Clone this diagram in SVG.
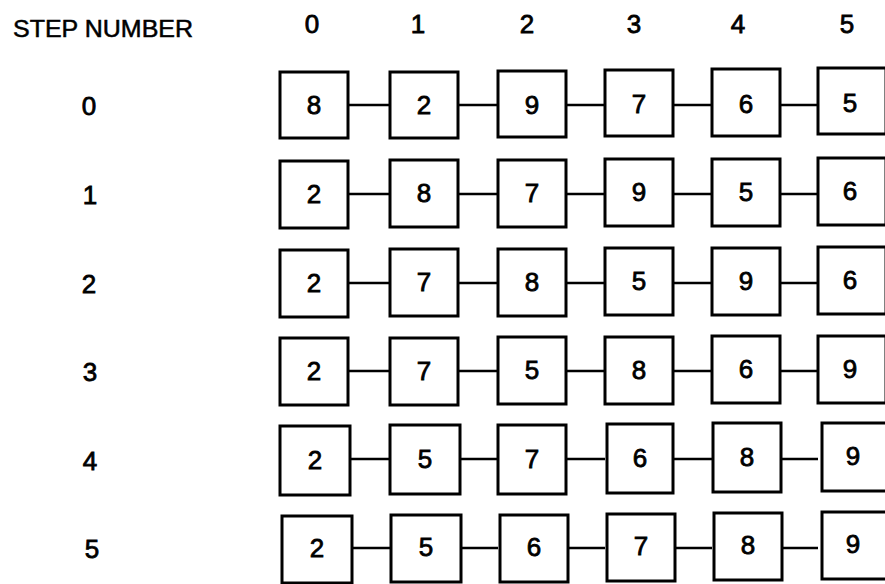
<svg xmlns="http://www.w3.org/2000/svg" width="885" height="584" viewBox="0 0 885 584">
<style>
.box{fill:#fff;stroke:#000;stroke-width:3}
.conn line{stroke:#000;stroke-width:2.5}
.v{font-family:"Liberation Sans","DejaVu Sans",sans-serif;font-size:26px;text-anchor:middle;fill:#000;stroke:#000;stroke-width:0.8}
.h{font-family:"Liberation Sans","DejaVu Sans",sans-serif;font-size:26px;text-anchor:middle;fill:#000;stroke:#000;stroke-width:0.8}
.t{font-family:"Liberation Sans","DejaVu Sans",sans-serif;font-size:23px;fill:#000;stroke:#000;stroke-width:0.5}
</style>
<rect width="885" height="584" fill="#fff"/>
<text class="t" x="13" y="37" textLength="180" lengthAdjust="spacingAndGlyphs">STEP NUMBER</text>
<g id="col-headers">
<text class="h" x="312" y="33">0</text>
<text class="h" x="418" y="33">1</text>
<text class="h" x="527" y="33">2</text>
<text class="h" x="634" y="33">3</text>
<text class="h" x="738" y="33">4</text>
<text class="h" x="847" y="33">5</text>
</g>
<g id="row-labels">
<text class="h" x="89" y="115">0</text>
<text class="h" x="90" y="204">1</text>
<text class="h" x="89" y="293">2</text>
<text class="h" x="90" y="381">3</text>
<text class="h" x="90" y="470">4</text>
<text class="h" x="92" y="558">5</text>
</g>
<g class="conn" id="connectors">
<line x1="348" y1="105" x2="390" y2="105"/><line x1="458" y1="105" x2="498" y2="105"/><line x1="566" y1="105" x2="605" y2="105"/><line x1="673" y1="105" x2="712" y2="105"/><line x1="780" y1="105" x2="818" y2="105"/>
<line x1="348" y1="194" x2="390" y2="194"/><line x1="458" y1="194" x2="498" y2="194"/><line x1="566" y1="194" x2="605" y2="194"/><line x1="673" y1="194" x2="712" y2="194"/><line x1="780" y1="194" x2="818" y2="194"/>
<line x1="348" y1="283" x2="390" y2="283"/><line x1="458" y1="283" x2="498" y2="283"/><line x1="566" y1="283" x2="605" y2="283"/><line x1="673" y1="283" x2="712" y2="283"/><line x1="780" y1="283" x2="818" y2="283"/>
<line x1="348" y1="371" x2="390" y2="371"/><line x1="458" y1="371" x2="498" y2="371"/><line x1="566" y1="371" x2="605" y2="371"/><line x1="673" y1="371" x2="712" y2="371"/><line x1="780" y1="371" x2="818" y2="371"/>
<line x1="348" y1="459" x2="390" y2="459"/><line x1="458" y1="459" x2="498" y2="459"/><line x1="566" y1="459" x2="605" y2="459"/><line x1="673" y1="459" x2="712" y2="459"/><line x1="780" y1="459" x2="818" y2="459"/>
<line x1="348" y1="548" x2="390" y2="548"/><line x1="458" y1="548" x2="498" y2="548"/><line x1="566" y1="548" x2="605" y2="548"/><line x1="673" y1="548" x2="712" y2="548"/><line x1="780" y1="548" x2="818" y2="548"/>
</g>
<g id="r0c0"><rect class="box" x="280" y="72" width="68" height="66"/><text class="v" x="314" y="114">8</text></g>
<g id="r0c1"><rect class="box" x="390" y="72" width="68" height="66"/><text class="v" x="424" y="114">2</text></g>
<g id="r0c2"><rect class="box" x="498" y="71" width="68" height="66"/><text class="v" x="532" y="114">9</text></g>
<g id="r0c3"><rect class="box" x="605" y="70" width="68" height="66"/><text class="v" x="639" y="113">7</text></g>
<g id="r0c4"><rect class="box" x="712" y="69" width="68" height="67"/><text class="v" x="746" y="113">6</text></g>
<g id="r0c5"><rect class="box" x="818" y="68" width="68" height="66"/><text class="v" x="850" y="112">5</text></g>
<g id="r1c0"><rect class="box" x="280" y="161" width="68" height="67"/><text class="v" x="314" y="203">2</text></g>
<g id="r1c1"><rect class="box" x="390" y="160" width="68" height="67"/><text class="v" x="424" y="202">8</text></g>
<g id="r1c2"><rect class="box" x="498" y="160" width="68" height="67"/><text class="v" x="532" y="202">7</text></g>
<g id="r1c3"><rect class="box" x="605" y="159" width="68" height="67"/><text class="v" x="639" y="201">9</text></g>
<g id="r1c4"><rect class="box" x="712" y="159" width="68" height="67"/><text class="v" x="746" y="201">5</text></g>
<g id="r1c5"><rect class="box" x="818" y="158" width="68" height="67"/><text class="v" x="850" y="200">6</text></g>
<g id="r2c0"><rect class="box" x="280" y="250" width="68" height="67"/><text class="v" x="314" y="292">2</text></g>
<g id="r2c1"><rect class="box" x="390" y="249" width="68" height="67"/><text class="v" x="424" y="291">7</text></g>
<g id="r2c2"><rect class="box" x="498" y="249" width="68" height="67"/><text class="v" x="532" y="291">8</text></g>
<g id="r2c3"><rect class="box" x="605" y="248" width="68" height="67"/><text class="v" x="639" y="290">5</text></g>
<g id="r2c4"><rect class="box" x="712" y="248" width="68" height="67"/><text class="v" x="746" y="290">9</text></g>
<g id="r2c5"><rect class="box" x="818" y="247" width="68" height="67"/><text class="v" x="850" y="289">6</text></g>
<g id="r3c0"><rect class="box" x="280" y="338" width="68" height="67"/><text class="v" x="314" y="380">2</text></g>
<g id="r3c1"><rect class="box" x="390" y="338" width="68" height="67"/><text class="v" x="424" y="380">7</text></g>
<g id="r3c2"><rect class="box" x="498" y="337" width="68" height="67"/><text class="v" x="532" y="379">5</text></g>
<g id="r3c3"><rect class="box" x="605" y="337" width="68" height="67"/><text class="v" x="639" y="379">8</text></g>
<g id="r3c4"><rect class="box" x="712" y="336" width="68" height="67"/><text class="v" x="746" y="378">6</text></g>
<g id="r3c5"><rect class="box" x="818" y="336" width="68" height="67"/><text class="v" x="850" y="378">9</text></g>
<g id="r4c0"><rect class="box" x="280" y="426" width="70" height="69"/><text class="v" x="315" y="469">2</text></g>
<g id="r4c1"><rect class="box" x="390" y="425" width="70" height="69"/><text class="v" x="425" y="468">5</text></g>
<g id="r4c2"><rect class="box" x="498" y="425" width="68" height="69"/><text class="v" x="532" y="468">7</text></g>
<g id="r4c3"><rect class="box" x="607" y="424" width="66" height="69"/><text class="v" x="640" y="467">6</text></g>
<g id="r4c4"><rect class="box" x="713" y="423" width="68" height="69"/><text class="v" x="747" y="466">8</text></g>
<g id="r4c5"><rect class="box" x="822" y="423" width="66" height="68"/><text class="v" x="853" y="465">9</text></g>
<g id="r5c0"><rect class="box" x="282" y="516" width="70" height="67"/><text class="v" x="317" y="557">2</text></g>
<g id="r5c1"><rect class="box" x="391" y="515" width="70" height="67"/><text class="v" x="426" y="556">5</text></g>
<g id="r5c2"><rect class="box" x="500" y="515" width="68" height="67"/><text class="v" x="534" y="556">6</text></g>
<g id="r5c3"><rect class="box" x="607" y="514" width="68" height="67"/><text class="v" x="641" y="555">7</text></g>
<g id="r5c4"><rect class="box" x="714" y="513" width="68" height="67"/><text class="v" x="748" y="554">8</text></g>
<g id="r5c5"><rect class="box" x="822" y="512" width="66" height="67"/><text class="v" x="853" y="553">9</text></g>
</svg>
